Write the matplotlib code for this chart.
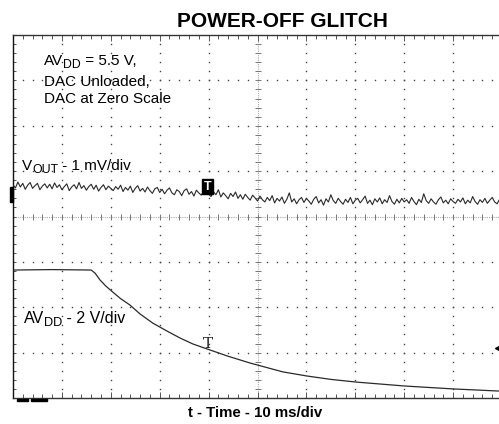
import numpy as np
import matplotlib
matplotlib.use("Agg")
import matplotlib.pyplot as plt
from matplotlib.patches import Rectangle

plt.rcParams['font.family'] = ['Liberation Sans', 'DejaVu Sans']

# ---------------- data ----------------
title = "POWER-OFF GLITCH"
xlabel = "t - Time - 10 ms/div"

# V_OUT trace (1 mV/div), in divisions relative to screen centre, one sample per 0.5 ms
vout_time_ms = np.arange(0, 100.01, 0.5)
vout_div = [0.70, 0.63, 0.76, 0.65, 0.73, 0.60, 0.69, 0.75, 0.62, 0.68, 0.73, 0.59, 0.67, 0.72, 0.63, 0.71, 0.61, 0.74, 0.64, 0.70, 0.59,
            0.66, 0.72, 0.57, 0.65, 0.70, 0.61, 0.75, 0.62, 0.68, 0.58, 0.66, 0.71, 0.60, 0.69, 0.56, 0.64, 0.70, 0.59, 0.67, 0.62,
            0.57, 0.66, 0.60, 0.69, 0.55, 0.64, 0.58, 0.67, 0.53, 0.62, 0.68, 0.56, 0.62, 0.54, 0.65, 0.57, 0.51, 0.61, 0.64, 0.53,
            0.60, 0.50, 0.58, 0.63, 0.52, 0.48, 0.59, 0.55, 0.46, 0.57, 0.61, 0.49, 0.55, 0.45, 0.58, 0.52, 0.47, 0.56, 0.66, 0.49,
            0.44, 0.54, 0.48, 0.59, 0.43, 0.52, 0.46, 0.39, 0.51, 0.44, 0.54, 0.40, 0.48, 0.38, 0.49, 0.42, 0.36, 0.47, 0.41, 0.34,
            0.45, 0.37, 0.32, 0.42, 0.35, 0.46, 0.30, 0.40, 0.34, 0.43, 0.29, 0.38, 0.52, 0.32, 0.39, 0.28, 0.37, 0.42, 0.31, 0.40,
            0.34, 0.27, 0.38, 0.44, 0.30, 0.37, 0.25, 0.39, 0.32, 0.48, 0.35, 0.29, 0.40, 0.33, 0.27, 0.38, 0.31, 0.42, 0.28, 0.36,
            0.40, 0.30, 0.37, 0.45, 0.29, 0.36, 0.26, 0.39, 0.32, 0.41, 0.28, 0.37, 0.31, 0.46, 0.33, 0.27, 0.38, 0.30, 0.40, 0.32,
            0.37, 0.29, 0.42, 0.33, 0.26, 0.38, 0.31, 0.50, 0.35, 0.29, 0.39, 0.32, 0.27, 0.37, 0.43, 0.30, 0.36, 0.28, 0.39, 0.33,
            0.29, 0.38, 0.32, 0.41, 0.28, 0.36, 0.30, 0.44, 0.33, 0.27, 0.37, 0.31, 0.40, 0.29, 0.36, 0.42, 0.32, 0.28, 0.38, 0.33]

# AV_DD trace (2 V/div, ground at bottom graticule line)
avdd_time_ms = [0, 8.0, 16.0, 16.8, 17.8, 19.0, 20.4, 22.0, 23.9, 26.0, 28.6, 31.5,
                34.2, 36.8, 39.7, 44.0, 48.5, 55.2, 60.1, 65.0, 70.3, 80.0, 90.0, 100.0]
avdd_volts = [5.64, 5.66, 5.64, 5.50, 5.20, 4.93, 4.67, 4.38, 4.10, 3.70, 3.30, 2.95,
              2.64, 2.38, 2.16, 1.84, 1.54, 1.15, 0.97, 0.82, 0.70, 0.53, 0.40, 0.30]

avdd_volts_per_div = 2.0
avdd_ground_div = -4.0

# ---------------- figure ----------------
W, H = 499, 424
fig = plt.figure(figsize=(W / 100, H / 100), dpi=100)
ax = fig.add_axes([13 / W, 26 / H, 489 / W, 363 / H])
ax.set_xlim(0, 100)
ax.set_ylim(-4, 4)

grid_c = '#444444'
# dotted graticule
for xm in range(10, 100, 10):
    if xm == 50:
        continue
    ys = np.arange(-4, 4.01, 0.2)
    ax.plot(np.full_like(ys, xm), ys, linestyle='none', marker='s', ms=1.0,
            mfc=grid_c, mec='none', zorder=1)
for ym in [-3, -2, -1, 1, 2, 3]:
    xs = np.arange(0, 100.01, 2)
    ax.plot(xs, np.full_like(xs, ym), linestyle='none', marker='s', ms=1.0,
            mfc=grid_c, mec='none', zorder=1)

# centre lines with minor tick marks
ax.axhline(0, color='#aaaaaa', lw=0.8, ls=(0, (1, 1)), zorder=1)
ax.axvline(50, color='#aaaaaa', lw=0.8, ls=(0, (1, 1)), zorder=1)
xs = np.arange(0, 100.01, 2)
ax.plot(xs, np.zeros_like(xs), linestyle='none', marker='|', ms=5, mew=0.7,
        color='#777777', zorder=1)
ys = np.arange(-4, 4.01, 0.2)
ax.plot(np.full_like(ys, 50), ys, linestyle='none', marker='_', ms=5, mew=0.7,
        color='#777777', zorder=1)

# traces
ax.plot(vout_time_ms, vout_div, color='#2a2a2a', lw=0.8, zorder=3)
avdd_div = [avdd_ground_div + v / avdd_volts_per_div for v in avdd_volts]
ax.plot(avdd_time_ms, avdd_div, color='#2a2a2a', lw=0.9, zorder=3)

# spines and ticks
ax.spines['right'].set_visible(False)
ax.spines['top'].set_color('#333333')
ax.spines['bottom'].set_color('#333333')
ax.spines['left'].set_color('#111111')
for s in ['top', 'bottom', 'left']:
    ax.spines[s].set_linewidth(1.0)
ax.set_xticks(np.arange(0, 101, 10))
ax.set_xticks(np.arange(0, 101, 2), minor=True)
ax.set_yticks(np.arange(-4, 5, 1))
ax.set_yticks(np.arange(-4, 4.01, 0.2), minor=True)
ax.tick_params(axis='x', which='both', direction='in', top=True, bottom=True,
               labelbottom=False, color='#555555', width=0.7)
ax.tick_params(axis='x', which='major', length=4)
ax.tick_params(axis='x', which='minor', length=3)
ax.tick_params(axis='y', which='both', direction='in', left=True, right=False,
               labelleft=False, color='#555555', width=0.7, length=2)

# markers
ax.text(39.8, 0.66, 'T', ha='center', va='center', color='white',
        fontsize=9, fontweight='bold', zorder=5,
        bbox=dict(boxstyle='square,pad=0.12', fc='black', ec='black'))
ax.text(39.8, -2.82, 'T', ha='center', va='center', color='#222222',
        fontsize=11, family='DejaVu Serif', zorder=5)
ax.plot([99.3], [-2.9], marker='<', ms=6, color='black', clip_on=False, zorder=5)
ax.add_patch(Rectangle((-0.6, 0.33), 0.6, 0.32, color='black', clip_on=False,
                       zorder=5))
ax.add_patch(Rectangle((0.8, -4.06), 2.2, 0.04, color='black', clip_on=False, zorder=5))
ax.add_patch(Rectangle((3.6, -4.06), 3.4, 0.04, color='black', clip_on=False, zorder=5))

# texts
def fx(px):
    return px / W

def fy(py):
    return 1 - py / H

renderer = fig.canvas.get_renderer()

def rich_text(x_px, y_px, parts, size):
    """parts: list of (string, is_subscript)"""
    x = x_px
    for s, sub in parts:
        fs = size * 0.8 if sub else size
        yy = y_px + (3.2 if sub else 0)
        t = fig.text(fx(x), fy(yy), s, ha='left', va='baseline', fontsize=fs)
        bb = t.get_window_extent(renderer)
        x += bb.width

fig.text(fx(282.5), fy(27), title, ha='center', va='baseline',
         fontsize=15, fontweight='bold')
fig.text(fx(255.5), fy(417), xlabel, ha='center', va='baseline',
         fontsize=10.8, fontweight='bold')
rich_text(44, 65, [('AV', False), ('DD', True), (' = 5.5 V,', False)], 11)
fig.text(fx(44), fy(86), 'DAC Unloaded,', ha='left', va='baseline', fontsize=11)
fig.text(fx(44), fy(103), 'DAC at Zero Scale', ha='left', va='baseline', fontsize=11)
rich_text(22, 170, [('V', False), ('OUT', True), (' - 1 mV/div', False)], 11)
rich_text(24, 323, [('AV', False), ('DD', True), (' - 2 V/div', False)], 11.5)

fig.savefig('out.png', dpi=100)
